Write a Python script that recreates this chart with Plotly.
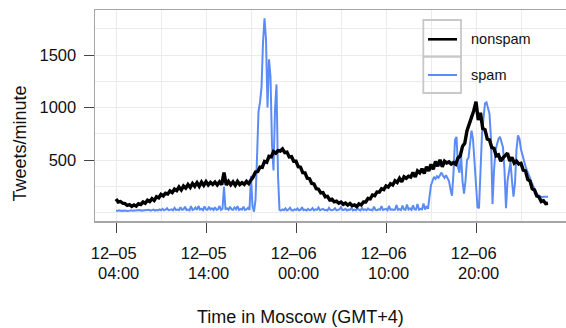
import pandas as pd
import plotly.graph_objects as go

# ---------------- data ----------------
start_time = "2011-12-05 04:00"

# nonspam tweets/minute, one value every 15 minutes from 12-05 04:00
nonspam = [
    128, 100, 105, 88,
    84, 68, 74, 58,
    72, 60, 84, 76,
    100, 88, 116, 104,
    132, 114, 150, 140,
    172, 158, 184, 176,
    206, 190, 222, 208,
    242, 214, 252, 232,
    266, 238, 276, 250,
    284, 250, 290, 258,
    294, 262, 286, 268,
    290, 262, 292, 266,
    380, 262, 296, 264,
    292, 260, 296, 266,
    284, 268, 296, 275,
    310, 340, 385, 390,
    432, 430, 486, 478,
    535, 530, 580, 565,
    590, 585, 605, 570,
    575, 530, 532, 488,
    488, 436, 432, 380,
    378, 326, 322, 276,
    272, 226, 222, 186,
    190, 150, 154, 120,
    126, 102, 108, 88,
    100, 78, 90, 70,
    86, 64, 72, 56,
    82, 72, 100, 100,
    135, 130, 167, 160,
    196, 194, 226, 218,
    252, 242, 274, 262,
    302, 286, 326, 292,
    340, 326, 346, 338,
    380, 338, 396, 378,
    416, 372, 436, 396,
    458, 412, 486, 440,
    502, 436, 488, 472,
    482, 462, 476, 460,
    520, 540, 630, 660,
    780, 840, 920, 970,
    1055, 880, 950, 800,
    790, 700, 690, 620,
    610, 540, 550, 490,
    520, 545, 565, 490,
    525, 470, 490, 462,
    468, 404, 396, 314,
    300, 226, 214, 158,
    148, 104, 112, 84,
    88,
]

# spam tweets/minute, one value every 10 minutes from 12-05 04:00
spam = [
    18, 15, 20, 16, 14, 18,
    16, 20, 15, 18, 22, 16,
    18, 15, 20, 17, 24, 18,
    20, 16, 22, 19, 25, 18,
    22, 28, 18, 24, 20, 30,
    22, 35, 20, 26, 40, 22,
    25, 30, 20, 45, 24, 28,
    22, 50, 25, 30, 55, 24,
    28, 20, 60, 25, 30, 48,
    24, 62, 28, 35, 22, 58,
    30, 25, 55, 28, 40, 24,
    50, 26, 30, 62, 25, 35,
    245, 28, 40, 25, 55, 30,
    26, 48, 30, 60, 25, 35,
    28, 55, 24, 30, 45, 24,
    350, 60, 8, 120, 520, 960,
    1050, 1190, 1620, 1850, 1650, 1000,
    1460, 1290, 640, 400, 980, 1220,
    350, 25, 18, 30, 22, 40,
    20, 28, 45, 22, 18, 30,
    24, 38, 20, 25, 50, 22,
    28, 20, 35, 22, 26, 42,
    20, 30, 25, 48, 22, 28,
    35, 22, 26, 20, 45, 24,
    22, 28, 40, 20, 25, 30,
    50, 22, 26, 35, 20, 28,
    24, 42, 20, 28, 22, 38,
    26, 20, 45, 24, 30, 22,
    38, 24, 28, 20, 55, 25,
    22, 30, 26, 60, 24, 28,
    35, 22, 62, 26, 30, 24,
    28, 70, 25, 32, 24, 65,
    30, 26, 75, 28, 40, 25,
    68, 30, 28, 80, 26, 35,
    30, 85, 28, 60, 35, 150,
    260, 300, 340, 320, 345, 330,
    360, 380, 350, 330, 355, 320,
    300, 220, 160, 380, 690, 720,
    430, 380, 560, 300, 180, 300,
    500, 520, 680, 780, 700, 480,
    300, 50, 40, 450, 750, 900,
    1040, 1050, 1000, 940, 700, 80,
    400, 590, 650, 700, 722, 680,
    620, 400, 40, 300, 420, 480,
    300, 150, 280, 600, 735, 700,
    600, 540, 480, 440, 400, 370,
    330, 290, 250, 220, 190, 170,
    160, 150, 145, 150, 148, 152,
    150,
]

tick_positions = ["2011-12-05 04:00", "2011-12-05 14:00", "2011-12-06 00:00",
                  "2011-12-06 10:00", "2011-12-06 20:00"]
tick_dates = ["12\u201305", "12\u201305", "12\u201306", "12\u201306", "12\u201306"]
tick_times = ["04:00", "14:00", "00:00", "10:00", "20:00"]
y_ticks = [500, 1000, 1500]

series_names = ["nonspam", "spam"]
series_colors = ["#000000", "#5b8cf5"]

# ---------------- figure ----------------
t_nonspam = pd.date_range(start_time, periods=len(nonspam), freq="15min")
t_spam = pd.date_range(start_time, periods=len(spam), freq="10min")

FONT = "Liberation Sans, Arial, Helvetica, sans-serif"
W, H = 566, 328
L, R, T, B = 95, 0, 10, 107
PW, PH = W - L - R, H - T - B


def px(xp):
    return (xp - L) / PW


def py(yp):
    return (H - B - yp) / PH


fig = go.Figure()
fig.add_trace(go.Scatter(x=t_spam, y=spam, mode="lines", name=series_names[1],
                         line=dict(color=series_colors[1], width=2), showlegend=False))
fig.add_trace(go.Scatter(x=t_nonspam, y=nonspam, mode="lines", name=series_names[0],
                         line=dict(color=series_colors[0], width=3.4), showlegend=False))

grid = "#ebebeb"
box = "#a6a6a6"
t0 = pd.Timestamp(start_time)

fig.update_xaxes(
    type="date", automargin=False,
    range=[t0 - pd.Timedelta(minutes=140), t0 + pd.Timedelta(hours=50)],
    tickmode="array", tickvals=tick_positions,
    ticktext=[d + "\u00a0" for d in tick_dates],
    ticks="outside", ticklen=10, tickwidth=1, tickcolor="#444",
    tickfont=dict(family=FONT, size=16.5, color="#111"),
    ticklabelstandoff=7,
    showgrid=True, gridcolor=grid, gridwidth=1,
    minor=dict(dtick=5 * 3600 * 1000, tick0=t0, showgrid=True,
               gridcolor=grid, gridwidth=1, ticks=""),
    showline=True, mirror=True, linecolor=box, linewidth=1.5,
    zeroline=False,
)
fig.update_yaxes(
    automargin=False,
    range=[-81, 1929],
    tickmode="array", tickvals=y_ticks,
    ticks="outside", ticklen=10, tickwidth=1, tickcolor="#444",
    tickfont=dict(family=FONT, size=16.5, color="#111"),
    ticklabelstandoff=4,
    showgrid=True, gridcolor=grid, gridwidth=1,
    minor=dict(dtick=250, tick0=0, showgrid=True, gridcolor=grid,
               gridwidth=1, ticks=""),
    showline=True, mirror=True, linecolor=box, linewidth=1.5,
    zeroline=False,
)

annotations = []
for pos, tt in zip(tick_positions, tick_times):
    annotations.append(dict(x=pos, xref="x", y=0, yref="paper", yanchor="middle",
                            xanchor="center", yshift=-52, xshift=2.5, text=tt,
                            showarrow=False,
                            font=dict(family=FONT, size=16.5, color="#111")))
annotations.append(dict(x=px(300), xref="paper", y=0, yref="paper", yanchor="middle",
                        xanchor="center", yshift=-96, text="Time in Moscow (GMT+4)",
                        showarrow=False, font=dict(family=FONT, size=18, color="#111")))
annotations.append(dict(x=0, xref="paper", xshift=-76, y=py(143.5), yref="paper",
                        xanchor="center", yanchor="middle", textangle=-90,
                        text="Tweets/minute", showarrow=False,
                        font=dict(family=FONT, size=18, color="#111")))

# legend (drawn manually: boxed cells like the original)
leg_x0, leg_x1 = px(423.3), px(461)
leg_top, leg_mid, leg_bot = py(20), py(56.7), py(93)
shapes = [
    dict(type="rect", xref="paper", yref="paper", x0=leg_x0, x1=leg_x1, y0=leg_mid, y1=leg_top,
         line=dict(color="#c8c8c8", width=1.8), fillcolor="rgba(255,255,255,0)"),
    dict(type="rect", xref="paper", yref="paper", x0=leg_x0, x1=leg_x1, y0=leg_bot, y1=leg_mid,
         line=dict(color="#c8c8c8", width=1.8), fillcolor="rgba(255,255,255,0)"),
]
leg_rows = [39.3, 75]
for name, color, ly in zip(series_names, series_colors, leg_rows):
    shapes.append(dict(type="line", xref="paper", yref="paper", x0=px(428), x1=px(457),
                       y0=py(ly), y1=py(ly),
                       line=dict(color=color, width=2.6 if color == "#000000" else 2)))
    annotations.append(dict(x=px(469), xref="paper", y=py(ly), yref="paper",
                            xanchor="left", yanchor="middle", text=name, showarrow=False,
                            font=dict(family=FONT, size=14.5, color="#111")))

fig.update_layout(
    width=W, height=H,
    margin=dict(l=L, r=R, t=T, b=B, pad=0, autoexpand=False),
    paper_bgcolor="white", plot_bgcolor="white",
    showlegend=False, hovermode=False,
    annotations=annotations, shapes=shapes,
    font=dict(family=FONT),
)

fig.write_html("out.html",
               config={"displayModeBar": False, "staticPlot": True},
               post_script="document.body.style.margin='0px';"
                           "document.body.style.padding='0px';"
                           "document.documentElement.style.overflow='hidden';")
